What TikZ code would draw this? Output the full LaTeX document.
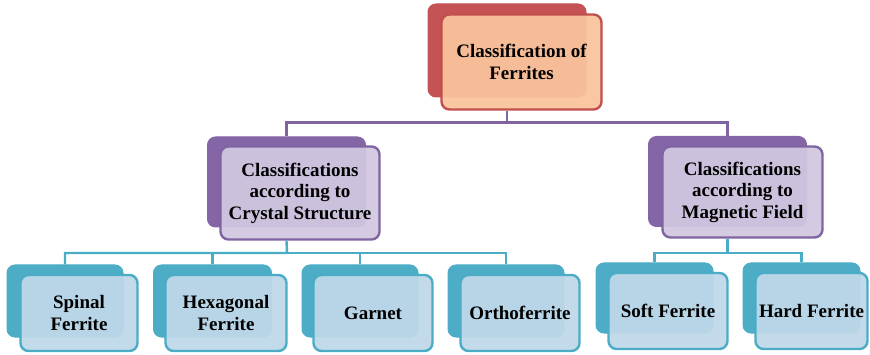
\documentclass[tikz,border=0pt]{standalone}
\usepackage{fontspec}
\newfontfamily\tnr{LiberationSerif}[Extension=.ttf, UprightFont=*-Regular, BoldFont=*-Bold]
\usetikzlibrary{calc}
\definecolor{redB}{HTML}{C55254}
\definecolor{redF}{HTML}{F9C39C}
\definecolor{redL}{HTML}{C0504D}
\definecolor{purB}{HTML}{8466A6}
\definecolor{purF}{HTML}{D1C7E0}
\definecolor{purL}{HTML}{8064A2}
\definecolor{cyaB}{HTML}{4DADC6}
\definecolor{cyaF}{HTML}{BED8E8}
\definecolor{cyaL}{HTML}{4BACC6}
\tikzset{
  backbox/.style={rectangle, rounded corners=8pt, inner sep=0pt, draw=#1, fill=#1, line width=1pt},
  frontbox/.style n args={2}{rectangle, rounded corners=8pt, inner sep=0pt, draw=#1, fill=#2, fill opacity=0.94, text opacity=1, line width=2.4pt, align=center, font=\tnr\fontsize{19}{21.5}\selectfont\bfseries},
  pconn/.style={draw=purL, line width=2.4pt},
  cconn/.style={draw=cyaL, line width=2.4pt},
}
\begin{document}
\begin{tikzpicture}[x=1pt,y=-1pt]
\useasboundingbox (0,0) rectangle (870,355);
% top
\node[backbox=redB, minimum width=158pt, minimum height=93pt] (tb) at (507,50.5) {};
\node[frontbox={redL}{redF}, minimum width=160pt, minimum height=95pt] (tf) at (521.5,62) {Classification of\\Ferrites};
% purple
\node[backbox=purB, minimum width=158pt, minimum height=90pt] (plb) at (286.5,182) {};
\node[frontbox={purL}{purF}, minimum width=159pt, minimum height=93pt] (plf) at (300,193) {Classifications\\according to\\Crystal Structure};
\node[backbox=purB, minimum width=158pt, minimum height=90pt] (prb) at (727.5,181.5) {};
\node[frontbox={purL}{purF}, minimum width=160pt, minimum height=91pt] (prf) at (742.5,192) {Classifications\\according to\\Magnetic Field};
% bottom
\node[backbox=cyaB, minimum width=116pt, minimum height=72pt] (b1) at (65,301) {};
\node[frontbox={cyaL}{cyaF}, minimum width=117pt, minimum height=76pt] (f1) at (79,313) {Spinal\\Ferrite};
\node[backbox=cyaB, minimum width=118pt, minimum height=72pt] (b2) at (212.5,301) {};
\node[frontbox={cyaL}{cyaF}, minimum width=121pt, minimum height=76pt] (f2) at (226,313) {Hexagonal\\Ferrite};
\node[backbox=cyaB, minimum width=116pt, minimum height=72pt] (b3) at (360,301) {};
\node[frontbox={cyaL}{cyaF}, minimum width=119pt, minimum height=76pt] (f3) at (373,313) {Garnet};
\node[backbox=cyaB, minimum width=116pt, minimum height=72pt] (b4) at (506,301) {};
\node[frontbox={cyaL}{cyaF}, minimum width=119pt, minimum height=76pt] (f4) at (520,313) {Orthoferrite};
\node[backbox=cyaB, minimum width=117pt, minimum height=70pt] (b5) at (654.5,298) {};
\node[frontbox={cyaL}{cyaF}, minimum width=119pt, minimum height=76pt] (f5) at (668,311) {Soft Ferrite};
\node[backbox=cyaB, minimum width=117pt, minimum height=70pt] (b6) at (801.5,298) {};
\node[frontbox={cyaL}{cyaF}, minimum width=112pt, minimum height=76pt] (f6) at (811.5,311) {Hard Ferrite};
% connectors
\coordinate (j0) at (507,122.5);
\draw[pconn] (tb |- tf.south) -- (j0) -| (plb.north);
\draw[pconn] (j0) -| (prb.north);
\coordinate (j1) at (287,253);
\draw[cconn] (plb |- plf.south) -- (j1) -| (b1.north);
\draw[cconn] (j1) -| (b4.north);
\draw[cconn] (b2.north) -- (b2 |- j1);
\draw[cconn] (b3.north) -- (b3 |- j1);
\coordinate (j2) at (727.5,253);
\draw[cconn] (prb |- prf.south) -- (j2) -| (b5.north);
\draw[cconn] (j2) -| (b6.north);
\end{tikzpicture}
\end{document}
